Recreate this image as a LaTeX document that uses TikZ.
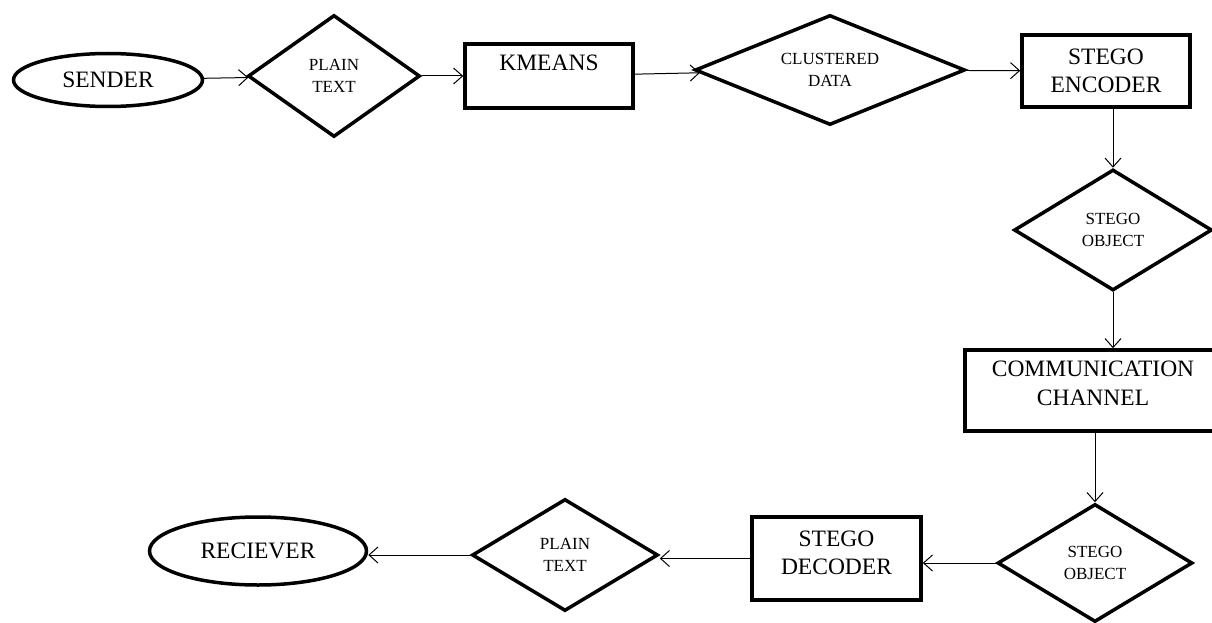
\documentclass[tikz,border=0pt]{standalone}
\usepackage{fontspec}
\setmainfont{Liberation Serif}
\usetikzlibrary{shapes.geometric,arrows.meta}
\tikzset{
  bigtxt/.style={font=\fontsize{23.5}{28.5}\selectfont, align=center},
  smalltxt/.style={font=\fontsize{17}{22}\selectfont, align=center},
  boxnode/.style={draw, line width=3.5pt, rectangle, inner sep=0pt, bigtxt},
  ovalnode/.style={draw, line width=3.5pt, ellipse, inner sep=0pt, bigtxt},
  dianode/.style={draw, line width=3.5pt, diamond, inner sep=0pt, smalltxt, aspect=2},
  arr/.style={line width=1pt, -{Straight Barb[length=9pt,width=16pt,line width=1pt]}}
}
\begin{document}
\begin{tikzpicture}[x=1pt,y=-1pt]
\useasboundingbox (0,0) rectangle (1212,623);
\clip (0,0) rectangle (1212,623);
\fill[white] (0,0) rectangle (1212,623);

\node[ovalnode, minimum width=189pt, minimum height=53pt] (sender) at (108,80) {SENDER};
\node[dianode, minimum width=172pt, minimum height=122pt] (pt1) at (334,76) {PLAIN\\TEXT};
\node[boxnode, minimum width=168pt, minimum height=64pt, text depth=26pt] (km) at (549,76) {KMEANS};
\node[dianode, aspect=2.4, minimum width=270pt, minimum height=110pt] (cd) at (830,70) {CLUSTERED\\DATA};
\node[boxnode, minimum width=168pt, minimum height=72pt] (enc) at (1106,71) {STEGO\\ENCODER};
\node[dianode, minimum width=198pt, minimum height=121pt] (so1) at (1113,230) {STEGO\\OBJECT};
\node[boxnode, minimum width=256pt, minimum height=81pt, text depth=15pt] (chan) at (1093,390.5) {COMMUNICATION\\CHANNEL};
\node[dianode, minimum width=195pt, minimum height=118pt] (so2) at (1095,563) {STEGO\\OBJECT};
\node[boxnode, minimum width=169pt, minimum height=83pt, text depth=12pt] (dec) at (836.5,558.5) {STEGO\\DECODER};
\node[dianode, minimum width=186pt, minimum height=112pt] (pt2) at (565,555) {PLAIN\\TEXT};
\node[ovalnode, minimum width=217pt, minimum height=68pt] (recv) at (258,551) {RECIEVER};

\draw[arr] (sender) -- (pt1);
\draw[arr] (pt1) -- (km);
\draw[arr] (km) -- (cd);
\draw[arr] (cd) -- (enc);
\draw[arr] (enc.south -| so1.north) -- (so1.north);
\draw[arr] (so1.south) -- (so1.south |- chan.north);
\draw[arr] (chan.south -| so2.north) -- (so2.north);
\draw[arr] (so2.west) -- (so2.west -| dec.east);
\draw[arr] (dec.west) -- (dec.west -| pt2.east);
\draw[arr] (pt2.west) -- (pt2.west -| recv.east);
\end{tikzpicture}
\end{document}
